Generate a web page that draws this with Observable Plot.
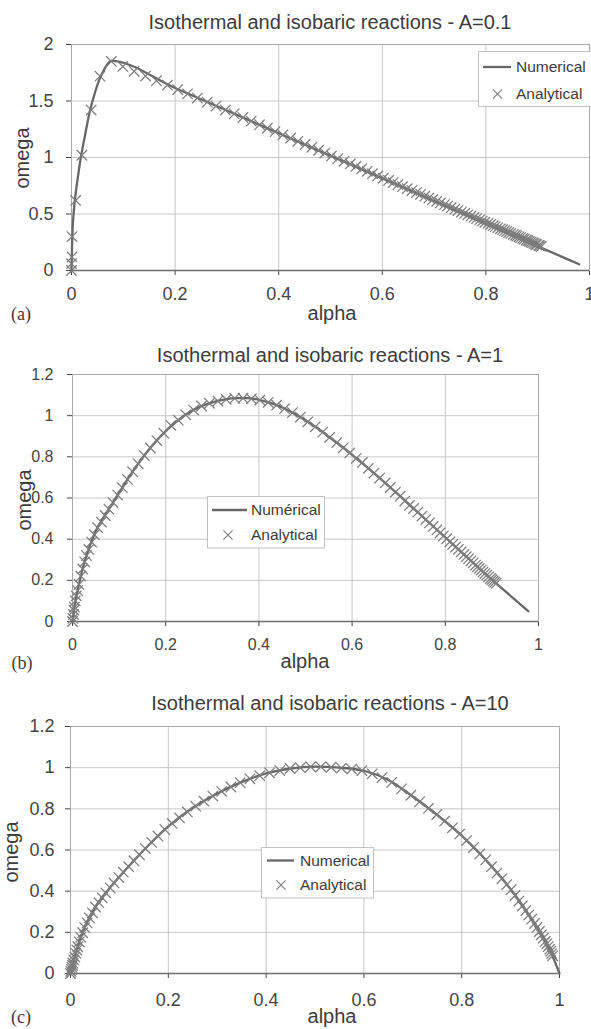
<!DOCTYPE html>
<html><head><meta charset="utf-8">
<script src="https://cdn.jsdelivr.net/npm/d3@7"></script>
<script src="https://cdn.jsdelivr.net/npm/@observablehq/plot@0.6"></script>
<style>
body{margin:0;background:#fff;}
#root{position:relative;width:591px;height:1029px;overflow:hidden;font-family:"Liberation Sans",Arial,sans-serif;color:#3c3c3c;background:#fff;}
.t{position:absolute;white-space:nowrap;transform:translate(-50%,-50%);line-height:1;}
.rot{transform:translate(-50%,-50%) rotate(-90deg);}
.ser{font-family:"Liberation Serif","Times New Roman",serif;}
svg.p{position:absolute;left:0;}
</style></head>
<body><div id="root"></div>
<script>
// ---- data ----
const titles = ["Isothermal and isobaric reactions - A=0.1","Isothermal and isobaric reactions - A=1","Isothermal and isobaric reactions - A=10"];
const panelLetters = ["(a)","(b)","(c)"];
const xLabel = "alpha";
const yLabel = "omega";
const legendLabels = [["Numerical","Analytical"],["Numérical","Analytical"],["Numerical","Analytical"]];
const xTicks = [0, 0.2, 0.4, 0.6, 0.8, 1];
const yTicksA = [0, 0.5, 1, 1.5, 2];
const yTicksBC = [0, 0.2, 0.4, 0.6, 0.8, 1, 1.2];

// Panel (a) A=0.1
const numAlphaA = [0,0.001,0.002,0.004,0.006,0.01,0.014,0.018,0.025,0.035,0.045,0.053,0.062,0.07,0.076,0.2,0.4,0.6,0.8,0.98];
const numOmegaA = [0,0.2,0.35,0.5,0.6,0.75,0.88,1.0,1.17,1.4,1.57,1.68,1.77,1.83,1.855,1.615,1.215,0.815,0.415,0.055];
const anaAlphaA = [0,0.0,0.001,0.001,0.008,0.02,0.038,0.055,
 0.077,0.099,0.121,0.143,0.164,0.185,0.205,0.224,0.243,0.262,0.279,0.297,0.314,0.331,0.347,0.363,0.378,0.393,0.408,0.423,
 0.437,0.451,0.464,0.477,0.489,0.502,0.514,0.526,0.538,0.549,0.560,0.571,0.581,0.591,0.602,0.612,0.621,0.630,0.639,0.648,
 0.657,0.666,0.674,0.682,0.690,0.697,0.705,0.712,0.720,0.726,0.733,0.740,0.746,0.753,0.759,0.765,0.771,0.777,0.782,0.788,
 0.793,0.798,0.804,0.809,0.814,0.818,0.823,0.828,0.832,0.836,0.840,0.844,0.848,0.853,0.857,0.860,0.864,0.867,0.871,0.874,
 0.878,0.881,0.884,0.887,0.890,0.893,0.896,0.898,0.902,0.904,0.907];
const anaOmegaA = [0,0.06,0.12,0.3,0.62,1.02,1.42,1.72,
 1.850,1.806,1.763,1.721,1.680,1.640,1.601,1.563,1.526,1.490,1.455,1.420,1.386,1.353,1.321,1.290,1.259,1.229,1.200,1.171,
 1.143,1.116,1.090,1.064,1.039,1.014,0.990,0.966,0.943,0.921,0.899,0.878,0.857,0.837,0.817,0.797,0.778,0.760,0.742,0.724,
 0.707,0.690,0.674,0.658,0.642,0.627,0.612,0.598,0.583,0.570,0.556,0.543,0.530,0.517,0.505,0.493,0.481,0.470,0.459,0.448,
 0.437,0.427,0.417,0.407,0.397,0.388,0.378,0.369,0.361,0.352,0.344,0.336,0.328,0.320,0.312,0.305,0.298,0.291,0.284,0.277,
 0.270,0.264,0.258,0.252,0.246,0.240,0.234,0.229,0.223,0.218,0.213];

// Panel (b) A=1
const numAlphaB = [0,0.005,0.01,0.02,0.03,0.05,0.075,0.1,0.125,0.15,0.175,0.2,0.225,0.25,0.275,0.3,0.325,0.35,0.375,0.4,0.425,0.45,0.475,0.5,0.525,0.55,0.575,0.6,0.65,0.7,0.75,0.8,0.85,0.9,0.95,0.978];
const numOmegaB = [0,0.08,0.14,0.24,0.32,0.44,0.535,0.625,0.715,0.795,0.865,0.925,0.975,1.015,1.045,1.065,1.078,1.085,1.085,1.077,1.062,1.04,1.012,0.978,0.94,0.898,0.855,0.81,0.715,0.615,0.512,0.408,0.305,0.203,0.105,0.05];
const anaAlphaB = [0,0.001,0.002,0.003,0.004,0.006,0.008,0.011,0.014,0.018,0.022,0.026,
 0.030,0.035,0.041,0.047,0.054,0.062,0.070,0.078,0.087,0.097,0.107,0.118,0.129,0.141,0.154,0.167,0.181,0.196,0.211,0.227,
 0.243,0.260,0.277,0.294,0.312,0.330,0.348,0.366,0.384,0.402,0.420,0.438,0.455,0.472,0.489,0.505,0.521,0.537,0.552,0.567,
 0.581,0.595,0.609,0.622,0.635,0.647,0.659,0.671,0.682,0.693,0.703,0.713,0.723,0.732,0.741,0.750,0.758,0.766,0.774,0.782,
 0.789,0.796,0.803,0.810,0.816,0.822,0.828,0.834,0.840,0.845,0.850,0.855,0.860,0.865,0.869,0.873,0.877,0.881,0.885,0.889,
 0.893,0.897,0.900,0.903,0.906,0.909];
const anaOmegaB = [0,0.015,0.035,0.055,0.07,0.1,0.125,0.15,0.18,0.22,0.255,0.29,
 0.32,0.35,0.386,0.422,0.456,0.483,0.515,0.546,0.578,0.614,0.650,0.690,0.728,0.766,0.806,0.843,0.879,0.915,0.953,0.978,
 1.004,1.027,1.047,1.060,1.071,1.079,1.084,1.085,1.082,1.076,1.065,1.051,1.034,1.015,0.993,0.970,0.946,0.920,0.895,0.869,
 0.844,0.819,0.793,0.773,0.744,0.721,0.697,0.673,0.651,0.629,0.609,0.585,0.564,0.549,0.531,0.512,0.495,0.479,0.462,0.445,
 0.431,0.416,0.402,0.387,0.375,0.362,0.350,0.338,0.326,0.315,0.305,0.295,0.285,0.274,0.266,0.258,0.250,0.241,0.233,0.225,
 0.217,0.209,0.203,0.197,0.191,0.185];

// Panel (c) A=10
const numAlphaC = [0,0.005,0.01,0.02,0.03,0.05,0.075,0.1,0.15,0.2,0.25,0.3,0.35,0.4,0.45,0.5,0.55,0.6,0.65,0.7,0.75,0.8,0.85,0.9,0.95,0.975,0.99,1];
const numOmegaC = [0,0.05,0.09,0.17,0.23,0.32,0.4,0.47,0.6,0.715,0.805,0.875,0.93,0.972,0.996,1.005,1.0,0.985,0.94,0.86,0.77,0.67,0.55,0.41,0.24,0.14,0.06,0];
const anaAlphaC = [0,0.001,0.002,0.003,0.004,0.005,0.007,0.009,0.011,0.013,0.015,0.018,
 0.021,0.025,0.029,0.034,0.039,0.045,0.051,0.058,0.065,0.072,0.081,0.089,0.099,0.108,0.119,0.130,0.141,0.153,0.166,0.179,
 0.193,0.208,0.223,0.239,0.256,0.273,0.291,0.309,0.328,0.347,0.367,0.387,0.407,0.428,0.449,0.470,0.491,0.512,0.533,0.554,
 0.575,0.596,0.617,0.637,0.657,0.677,0.696,0.714,0.732,0.749,0.765,0.781,0.796,0.810,0.824,0.837,0.849,0.861,0.872,0.882,
 0.892,0.901,0.909,0.917,0.924,0.931,0.937,0.943,0.949,0.954,0.959,0.963,0.967,0.971,0.974,0.977,0.980,0.982,0.984,0.986];
const anaOmegaC = [0,0.01,0.02,0.03,0.04,0.05,0.065,0.08,0.098,0.114,0.13,0.154,
 0.176,0.198,0.223,0.246,0.270,0.295,0.323,0.344,0.367,0.392,0.416,0.440,0.466,0.492,0.519,0.547,0.577,0.607,0.637,0.667,
 0.699,0.729,0.756,0.785,0.813,0.837,0.862,0.885,0.906,0.927,0.946,0.961,0.975,0.986,0.996,1.000,1.004,1.004,1.002,0.998,
 0.993,0.986,0.970,0.952,0.929,0.897,0.866,0.835,0.802,0.772,0.740,0.708,0.678,0.646,0.612,0.581,0.552,0.519,0.488,0.460,
 0.432,0.407,0.379,0.352,0.328,0.305,0.284,0.264,0.243,0.224,0.204,0.188,0.172,0.156,0.144,0.131,0.118,0.108,0.097,0.086];

// ---- layout ----
const layout = [
 {top:0, h:330, mt:44, mb:60, ml:71, mr:2, fs:18, xpad:12, ypad:13, yDomain:[0,2], yTicks:yTicksA,
  titleY:22, alphaX:332, alphaY:313, omegaX:22, omegaY:158, letterX:21, letterY:314,
  leg:{x:478, y:51, w:118, h:55, r1:67, r2:94, l1:483, l2:511, sx:497.5, tx:516}},
 {top:330, h:350, mt:44, mb:59, ml:72, mr:53, fs:16, xpad:12, ypad:14, yDomain:[0,1.2], yTicks:yTicksBC,
  titleY:355, alphaX:305, alphaY:661, omegaX:24, omegaY:500, letterX:22, letterY:663,
  leg:{x:207, y:496, w:117, h:51.5, r1:510, r2:535, l1:212, l2:247, sx:228, tx:251}},
 {top:680, h:349, mt:46, mb:56, ml:70, mr:32, fs:18, xpad:15, ypad:11, yDomain:[0,1.2], yTicks:yTicksBC,
  titleY:703, alphaX:332, alphaY:1016, omegaX:11, omegaY:852, letterX:21, letterY:1017,
  leg:{x:261, y:847, w:112, h:50.5, r1:860.5, r2:885, l1:267, l2:294, sx:281, tx:300}}
];
const series = [
 [numAlphaA, numOmegaA, anaAlphaA, anaOmegaA],
 [numAlphaB, numOmegaB, anaAlphaB, anaOmegaB],
 [numAlphaC, numOmegaC, anaAlphaC, anaOmegaC]
];

const root = document.getElementById("root");
const zip = (a, w) => a.slice(0, Math.min(a.length, w.length)).map((v, i) => ({a: v, w: w[i]}));
const LINE = "#676767", MARK = "#7c7c7c", GRID = "#c6c6c6", FRAME = "#a9a9a9";

function addText(txt, x, y, size, cls) {
  const d = document.createElement("div");
  d.className = "t " + (cls || "");
  d.style.left = x + "px"; d.style.top = y + "px"; d.style.fontSize = size + "px";
  d.textContent = txt;
  root.appendChild(d);
}

layout.forEach((L, i) => {
  const [na, nw, aa, aw] = series[i];
  const svg = Plot.plot({
    width: 591, height: L.h,
    marginTop: L.mt, marginBottom: L.mb, marginLeft: L.ml, marginRight: L.mr,
    style: {fontFamily: "'Liberation Sans', Arial, sans-serif", fontSize: L.fs + "px", color: "#444", background: "transparent", overflow: "visible"},
    x: {domain: [0, 1], ticks: xTicks, tickFormat: d => String(d), tickSize: 5, tickPadding: L.xpad, label: null},
    y: {domain: L.yDomain, ticks: L.yTicks, tickFormat: d => String(d), tickSize: 5, tickPadding: L.ypad, label: null},
    marks: [
      Plot.ruleX(xTicks, {stroke: GRID, strokeWidth: 1}),
      Plot.ruleY(L.yTicks, {stroke: GRID, strokeWidth: 1}),
      Plot.frame({stroke: FRAME, strokeWidth: 1}),
      Plot.ruleY([0], {stroke: "#6e6e6e", strokeWidth: 1.6}),
      Plot.line(zip(na, nw), {x: "a", y: "w", stroke: LINE, strokeWidth: 2.3, curve: "monotone-x"}),
      Plot.dot(zip(aa, aw), {x: "a", y: "w", symbol: "times", r: 4.8, fill: "none", stroke: MARK, strokeWidth: 1.25})
    ]
  });
  svg.classList.add("p");
  svg.style.top = L.top + "px";
  d3.select(svg).selectAll("text").style("font-size", L.fs + "px");
  root.appendChild(svg);

  addText(titles[i], 330, L.titleY, 20);
  addText(xLabel, L.alphaX, L.alphaY, 20);
  addText(yLabel, L.omegaX, L.omegaY, 20, "rot");
  addText(panelLetters[i], L.letterX, L.letterY, 18, "ser");

  // legend
  const g = L.leg;
  const lg = d3.create("svg").attr("width", 591).attr("height", 1029)
    .style("position", "absolute").style("left", "0px").style("top", "0px");
  lg.append("rect").attr("x", g.x + 0.5).attr("y", g.y + 0.5).attr("width", g.w).attr("height", g.h)
    .attr("fill", "#fff").attr("stroke", "#c0c0c0");
  lg.append("line").attr("x1", g.l1).attr("x2", g.l2).attr("y1", g.r1).attr("y2", g.r1)
    .attr("stroke", LINE).attr("stroke-width", 2.3);
  const s = 4.6;
  lg.append("path").attr("d", `M${g.sx - s},${g.r2 - s}L${g.sx + s},${g.r2 + s}M${g.sx - s},${g.r2 + s}L${g.sx + s},${g.r2 - s}`)
    .attr("stroke", MARK).attr("stroke-width", 1.1).attr("fill", "none");
  [g.r1, g.r2].forEach((ry, k) => {
    lg.append("text").attr("x", g.tx).attr("y", ry).attr("dy", "0.35em")
      .attr("font-family", "'Liberation Sans', Arial, sans-serif").attr("font-size", 15.5).attr("fill", "#3c3c3c")
      .text(legendLabels[i][k]);
  });
  root.appendChild(lg.node());
});
</script>
</body></html>
